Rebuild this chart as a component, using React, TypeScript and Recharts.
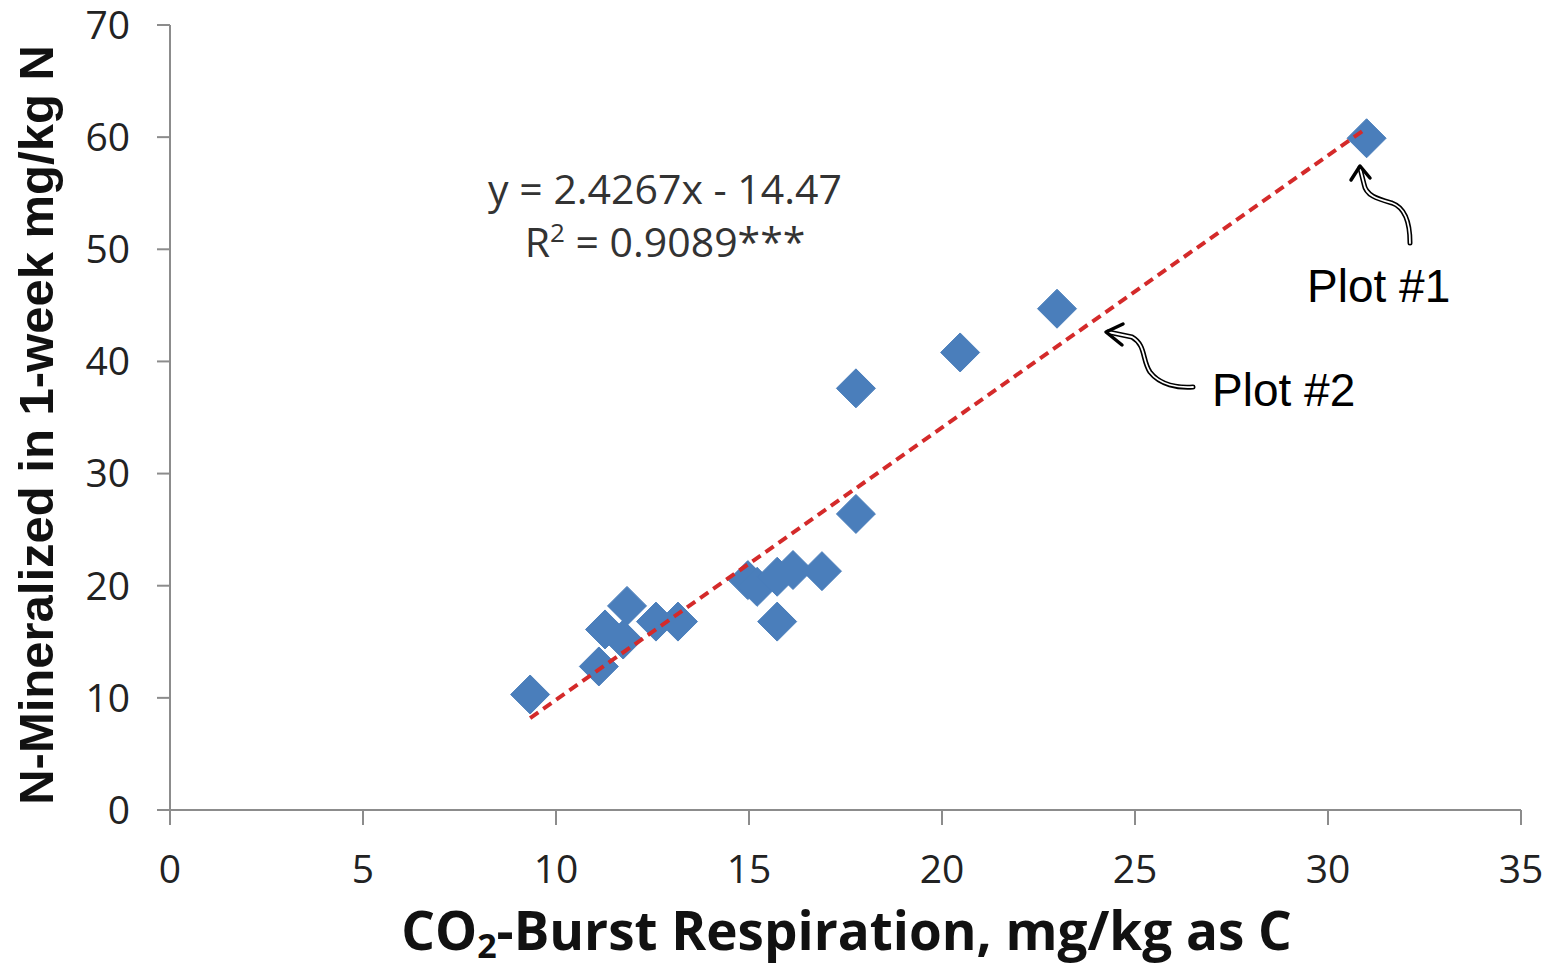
import React from "react";
import {
  ScatterChart,
  Scatter,
  XAxis,
  YAxis,
  Label,
} from "recharts";

// CO2-burst respiration (x) vs N mineralized in 1 week (y)
const respiration = [
  9.33, 11.11, 11.27, 11.84, 11.74, 12.59, 13.16, 14.97, 15.21, 15.73,
  16.14, 16.89, 15.73, 17.77, 17.77, 20.47, 22.98, 31.0,
];
const nMineralized = [
  10.3, 12.8, 16.1, 18.2, 15.2, 16.8, 16.8, 20.5, 19.9, 20.8,
  21.4, 21.3, 16.8, 26.4, 37.6, 40.8, 44.7, 59.9,
];

// ends of the dashed fit line as drawn
const trendX = [9.33, 31.0];
const trendY = [8.2, 60.8];

const xTicks = [0, 5, 10, 15, 20, 25, 30, 35];
const yTicks = [0, 10, 20, 30, 40, 50, 60, 70];

const points = respiration.map((x, i) => ({ x, y: nMineralized[i] }));
const trend = trendX.map((x, i) => ({ x, y: trendY[i] }));

const AXIS = "#8c8c8c";
const TICK_FONT = "'Open Sans', sans-serif";

function Diamond(props: any) {
  const { cx, cy } = props;
  if (cx == null || cy == null) return null;
  const r = 19.5;
  return (
    <polygon
      points={`${cx},${cy - r} ${cx + r},${cy} ${cx},${cy + r} ${cx - r},${cy}`}
      fill="#4a7ebb"
      stroke="#4a7ebb"
      strokeWidth={1}
      strokeLinejoin="round"
    />
  );
}

function XTitle(props: any) {
  const { viewBox } = props;
  const cx = viewBox.x + viewBox.width / 2;
  return (
    <text
      x={cx + 1}
      y={950}
      textAnchor="middle"
      fontFamily={TICK_FONT}
      fontWeight={700}
      fontSize={53}
      fill="#111"
    >
      CO
      <tspan fontSize={34} dy={8}>2</tspan>
      <tspan dy={-8}>-Burst Respiration, mg/kg as C</tspan>
    </text>
  );
}

function YTitle() {
  return (
    <text
      x={0}
      y={0}
      transform="translate(53, 425) rotate(-90)"
      textAnchor="middle"
      fontFamily="'Liberation Sans', Arial, sans-serif"
      fontWeight={700}
      fontSize={49}
      fill="#111"
    >
      N-Mineralized in 1-week mg/kg N
    </text>
  );
}

// double-line squiggle arrows used for the plot call-outs
function Callout({ d, head }: { d: string; head: string }) {
  return (
    <g fill="none" strokeLinecap="round" strokeLinejoin="round">
      <path d={d} stroke="#000" strokeWidth={5} />
      <path d={d} stroke="#fff" strokeWidth={1.8} />
      <path d={head} stroke="#000" strokeWidth={3.5} />
    </g>
  );
}

export default function App() {
  return (
    <div style={{ position: "absolute", left: 0, top: 0, width: 1558, height: 965, background: "#fff" }}>
      <ScatterChart
        width={1558}
        height={965}
        margin={{ top: 25, right: 37, bottom: 0, left: 10 }}
      >
        <XAxis
          type="number"
          dataKey="x"
          domain={[0, 35]}
          ticks={xTicks}
          interval={0}
          height={155}
          stroke={AXIS}
          strokeWidth={2}
          tickSize={15}
          tickMargin={30}
          tick={{ fill: "#222", fontSize: 39, fontFamily: TICK_FONT }}
        >
          <Label content={<XTitle />} />
        </XAxis>
        <YAxis
          type="number"
          dataKey="y"
          domain={[0, 70]}
          ticks={yTicks}
          interval={0}
          width={160}
          stroke={AXIS}
          strokeWidth={2}
          tickSize={13}
          tickMargin={27}
          tick={{ fill: "#222", fontSize: 39, fontFamily: TICK_FONT }}
        />
        <Scatter data={points} shape={<Diamond />} isAnimationActive={false} />
        <Scatter
          data={trend}
          line={{ stroke: "#d42a2a", strokeWidth: 4, strokeDasharray: "10 6" }}
          shape={() => <g />}
          isAnimationActive={false}
        />
      </ScatterChart>

      <svg
        width={1558}
        height={965}
        style={{ position: "absolute", left: 0, top: 0, pointerEvents: "none" }}
      >
        <YTitle />
        <g fontFamily={TICK_FONT} fontSize={41} fill="#333" textAnchor="middle">
          <text x={665} y={204}>y = 2.4267x - 14.47</text>
          <text x={665} y={257}>
            R<tspan fontSize={26} dy={-15}>2</tspan>
            <tspan dy={15}> = 0.9089***</tspan>
          </text>
        </g>
        <g fontFamily="'Liberation Sans', Arial, sans-serif" fontSize={46} fill="#000">
          <text x={1307} y={302}>Plot #1</text>
          <text x={1212} y={406}>Plot #2</text>
        </g>
        <Callout
          d="M1410,243 C1410,225 1406,208 1392,203 C1378,199 1366,196 1364,184 L1360,168"
          head="M1351,180 L1360,166 L1370,178"
        />
        <Callout
          d="M1193,387 C1178,388 1160,385 1150,372 C1142,360 1146,345 1132,337 L1108,332"
          head="M1123,324 L1106,332 L1122,345"
        />
      </svg>
    </div>
  );
}
